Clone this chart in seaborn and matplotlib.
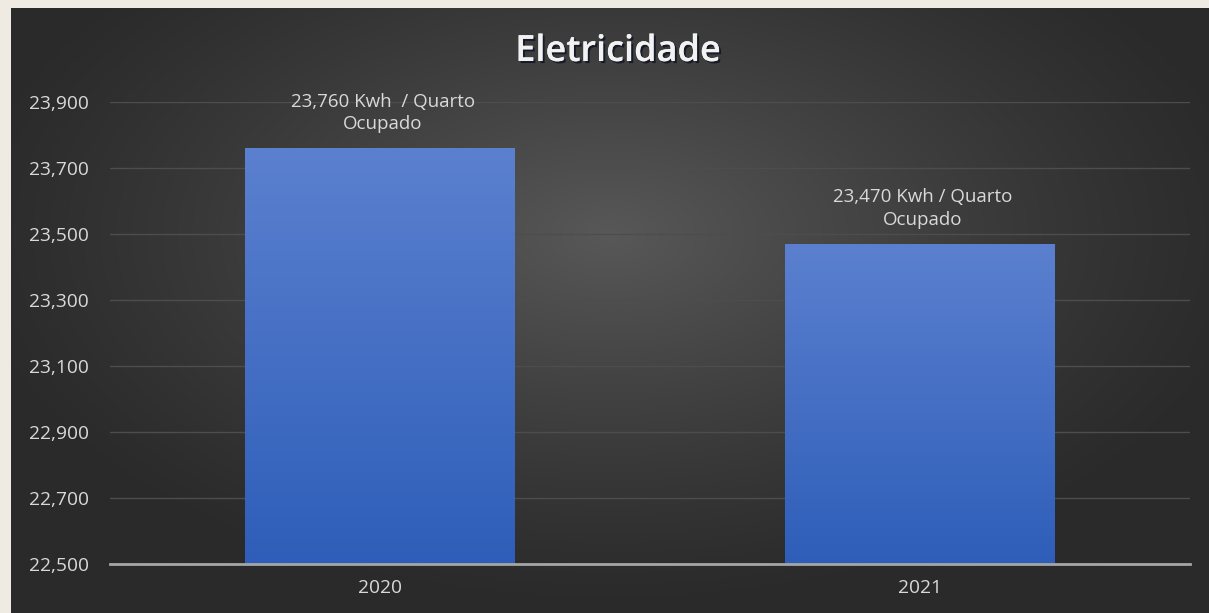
import numpy as np
import pandas as pd
import seaborn as sns
import matplotlib.pyplot as plt
import matplotlib.patheffects as pe

# dados
anos = ["2020", "2021"]
consumo = [23760, 23470]
rotulos = ["23,760 Kwh  / Quarto\nOcupado", "23,470 Kwh / Quarto\nOcupado"]
yticks = [22500, 22700, 22900, 23100, 23300, 23500, 23700, 23900]

df = pd.DataFrame({"ano": anos, "kwh": consumo})

sns.set_style("dark")
plt.rcParams["font.family"] = ["Open Sans", "DejaVu Sans"]

W, H = 1209, 613
fig = plt.figure(figsize=(W / 100, H / 100), dpi=100, facecolor="#EFEBE2")

# fundo escuro com gradiente radial
bg = fig.add_axes([11 / W, 0, (W - 11) / W, (H - 8) / H])
xx, yy = np.meshgrid(np.linspace(-1, 1, 400), np.linspace(-1, 1, 200))
r = np.sqrt((xx * 0.9) ** 2 + ((yy - 0.25) * 0.8) ** 2)
grad = np.clip(1 - r, 0, 1)
c0 = np.array([0x2a, 0x2a, 0x2a]) / 255
c1 = np.array([0x58, 0x58, 0x58]) / 255
img = c0 + (c1 - c0) * grad[..., None] ** 1.2
bg.imshow(img, aspect="auto", extent=[0, 1, 0, 1], origin="lower")
bg.set_axis_off()

ax = fig.add_axes([110 / W, (H - 564) / H, 1080 / W, (564 - 102) / H])
ax.patch.set_alpha(0)

sns.barplot(data=df, x="ano", y="kwh", color="#4472C4", width=0.5, ax=ax, zorder=3)
ax.set_ylim(22500, 23900)
ax.set_xlim(-0.5, 1.5)

# gradiente nas barras
bar_grad = np.linspace(0, 1, 256)[:, None]
cmap = plt.matplotlib.colors.LinearSegmentedColormap.from_list("b", ["#2E5EB9", "#5B80CF"])
for p in ax.patches:
    x0, y0 = p.get_x(), p.get_y()
    w, h = p.get_width(), p.get_height()
    p.set_facecolor("none")
    p.set_edgecolor("none")
    im = ax.imshow(bar_grad, cmap=cmap, aspect="auto", origin="lower",
                   extent=[x0, x0 + w, 22500, y0 + h], zorder=3)
    im.set_clip_path(p)

ax.set_yticks(yticks)
ax.set_yticklabels([f"{v:,}" for v in yticks])
ax.grid(axis="y", color="#4D4D4D", linewidth=1, zorder=0)
ax.grid(axis="x", visible=False)
ax.tick_params(axis="both", colors="#D9D9D9", labelsize=13.8, length=0)
ax.tick_params(axis="y", pad=15)
ax.tick_params(axis="x", pad=11)
for s in ["top", "right", "left"]:
    ax.spines[s].set_visible(False)
ax.spines["bottom"].set_color("#A6A6A6")
ax.spines["bottom"].set_linewidth(2)
ax.spines["bottom"].set_zorder(4)
ax.set_xlabel("")
ax.set_ylabel("")

for i, (v, t) in enumerate(zip(consumo, rotulos)):
    ax.annotate(t, (i, v), xytext=(2, 11), textcoords="offset points",
                ha="center", va="bottom", color="#D9D9D9", fontsize=13.5,
                linespacing=1.3, annotation_clip=False)

fig.text(618 / W, 1 - 52 / H, "Eletricidade", ha="center", va="center",
         color="#F2F2F2", fontsize=26, fontweight="semibold",
         path_effects=[pe.withSimplePatchShadow(offset=(1.5, -1.5), shadow_rgbFace="#0d1322", alpha=0.8),
                       pe.Normal()])

fig.savefig("out.png", dpi=100, facecolor=fig.get_facecolor())
